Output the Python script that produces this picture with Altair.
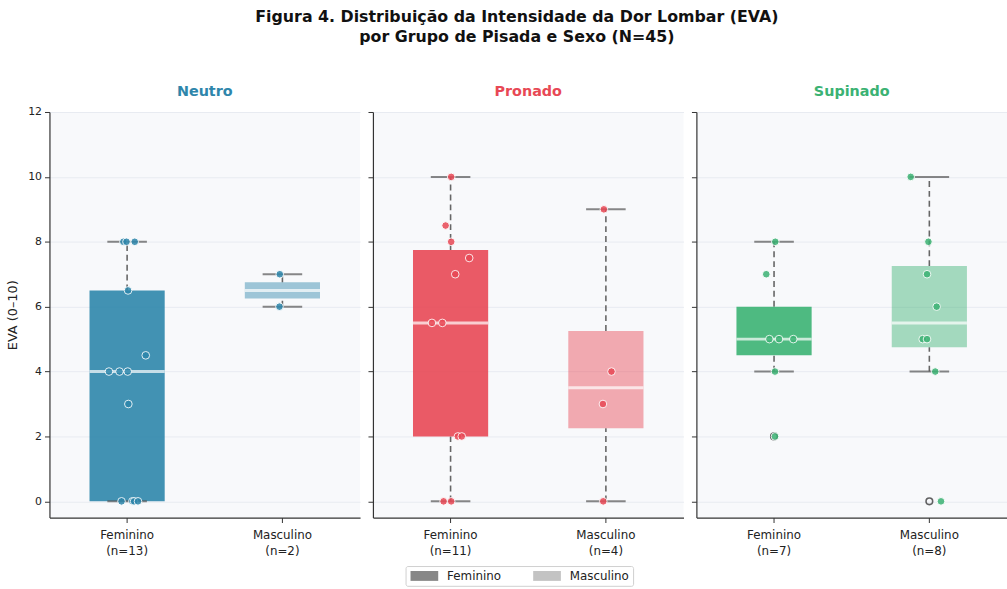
import numpy as np
import pandas as pd
import altair as alt

# Grupos de pisada, sexo e cores de cada grupo
groups = ["Neutro", "Pronado", "Supinado"]
sexes = ["Feminino", "Masculino"]
group_colors = ["#2E86AB", "#E84855", "#3BB273"]

# Intensidade da dor lombar (EVA 0–10) por grupo e sexo
eva = {
    ("Neutro", "Feminino"): [8, 8, 8, 6.5, 4.5, 4, 4, 4, 3, 0, 0, 0, 0],
    ("Neutro", "Masculino"): [7, 6],
    ("Pronado", "Feminino"): [10, 8.5, 8, 7.5, 7, 5.5, 5.5, 2, 2, 0, 0],
    ("Pronado", "Masculino"): [9, 4, 3, 0],
    ("Supinado", "Feminino"): [8, 7, 5, 5, 5, 4, 2],
    ("Supinado", "Masculino"): [10, 8, 7, 6, 5, 5, 4, 0],
}

# Deslocamento horizontal dos pontos (fração da largura da categoria)
jitter = {
    ("Neutro", "Feminino"): [-0.024, -0.004, 0.049, 0.006, 0.12, -0.117, -0.049, 0.004, 0.008, -0.036, 0.034, 0.045, 0.07],
    ("Neutro", "Masculino"): [-0.017, -0.019],
    ("Pronado", "Feminino"): [0.004, -0.032, 0.004, 0.12, 0.03, -0.12, -0.053, 0.047, 0.072, -0.045, 0.004],
    ("Pronado", "Masculino"): [-0.013, 0.036, -0.019, -0.017],
    ("Supinado", "Feminino"): [0.008, -0.05, -0.03, 0.032, 0.124, 0.006, 0.006],
    ("Supinado", "Masculino"): [-0.12, -0.006, -0.015, 0.047, -0.043, -0.015, 0.038, 0.075],
}

point_rows, stat_rows, whisker_rows, flier_rows = [], [], [], []
for (g, s), vals in eva.items():
    arr = np.array(vals, dtype=float)
    for v, j in zip(vals, jitter[(g, s)]):
        point_rows.append({"Grupo": g, "Sexo": s, "EVA": v, "jit": j})
    q1, med, q3 = np.percentile(arr, [25, 50, 75])
    iqr = q3 - q1
    inside = arr[(arr >= q1 - 1.5 * iqr) & (arr <= q3 + 1.5 * iqr)]
    lo, hi = inside.min(), inside.max()
    stat_rows.append({"Grupo": g, "Sexo": s, "q1": q1, "med": med, "q3": q3, "lo": lo, "hi": hi})
    whisker_rows.append({"Grupo": g, "Sexo": s, "a": lo, "b": q1})
    whisker_rows.append({"Grupo": g, "Sexo": s, "a": q3, "b": hi})
    for v in arr[(arr < lo) | (arr > hi)]:
        flier_rows.append({"Grupo": g, "Sexo": s, "EVA": v})

points = pd.DataFrame(point_rows)
stats = pd.DataFrame(stat_rows)
whiskers = pd.DataFrame(whisker_rows)
fliers = pd.DataFrame(flier_rows, columns=["Grupo", "Sexo", "EVA"])

PANEL_W, PANEL_H = 314, 410
BOX_W, CAP_W = 76, 40

sex_opacity = alt.Scale(domain=sexes, range=[0.9, 0.45])

# Legenda de sexo (tons de cinza), posicionada abaixo dos painéis
sex_legend = alt.Legend(
    title=None,
    orient="none",
    direction="horizontal",
    legendX=360,
    legendY=459,
    symbolType="M-2.8,-1L2.8,-1L2.8,1L-2.8,1Z",
    symbolSize=100,
    symbolStrokeWidth=0,
    symbolOffset=9,
    labelFontSize=12,
    labelColor="#222222",
    labelOffset=17,
    columnPadding=31,
    padding=4,
    strokeColor="#cfcfcf",
    fillColor="#ffffff",
    cornerRadius=2,
)


def panel(i):
    g = groups[i]
    col = group_colors[i]
    n_f = len(eva[(g, "Feminino")])
    n_m = len(eva[(g, "Masculino")])
    label_expr = (
        f"datum.value == 'Feminino' ? ['Feminino', '(n={n_f})'] : ['Masculino', '(n={n_m})']"
    )
    x = alt.X(
        "Sexo:N",
        scale=alt.Scale(domain=sexes, paddingInner=0, paddingOuter=0),
        axis=alt.Axis(title=None, labelAngle=0, labelExpr=label_expr, labelFontSize=12,
                      labelPadding=7, tickSize=5, labelLineHeight=16),
    )
    yscale = alt.Scale(domain=[-0.5, 12], nice=False, zero=False)
    yaxis = alt.Axis(
        values=[0, 2, 4, 6, 8, 10, 12],
        title="EVA (0–10)" if i == 0 else None,
        labels=(i == 0),
        titleFontSize=13,
        titleFontWeight="normal",
        titlePadding=8,
        labelFontSize=11,
        labelPadding=3,
        tickSize=5,
        grid=True,
        gridColor="#e8ebf1",
    )

    base_w = alt.Chart(whiskers[whiskers.Grupo == g])
    base_s = alt.Chart(stats[stats.Grupo == g])

    whisk = base_w.mark_rule(color="#666666", strokeWidth=1.6, strokeDash=[6, 4]).encode(
        x=x, y=alt.Y("a:Q", scale=yscale, axis=yaxis), y2="b:Q"
    )
    box = base_s.mark_bar(size=BOX_W, color=col).encode(
        x=x,
        y=alt.Y("q1:Q", scale=yscale, axis=yaxis),
        y2="q3:Q",
        opacity=alt.Opacity("Sexo:N", scale=sex_opacity, legend=None),
    )
    caps_lo = base_s.mark_tick(size=CAP_W, thickness=2, color="#555555").encode(
        x=x, y=alt.Y("lo:Q", scale=yscale, axis=yaxis)
    )
    caps_hi = base_s.mark_tick(size=CAP_W, thickness=2, color="#555555").encode(
        x=x, y=alt.Y("hi:Q", scale=yscale, axis=yaxis)
    )
    median = base_s.mark_tick(size=BOX_W, thickness=3, color="white").encode(
        x=x, y=alt.Y("med:Q", scale=yscale, axis=yaxis)
    )
    layers = [whisk, box, caps_lo, caps_hi, median]
    if i == 0:
        # camada sem área visível que carrega a legenda em cinza
        layers.insert(0, base_s.mark_bar(size=0, color="#7a7a7a", strokeWidth=0).encode(
            x=x,
            y=alt.Y("q1:Q", scale=yscale, axis=yaxis),
            y2="q1:Q",
            opacity=alt.Opacity("Sexo:N", scale=sex_opacity, legend=sex_legend),
        ))
    fl = fliers[fliers.Grupo == g]
    if len(fl):
        layers.append(
            alt.Chart(fl).mark_point(shape="circle", filled=False, color="#222222",
                                     size=45, strokeWidth=1.6).encode(
                x=x, y=alt.Y("EVA:Q", scale=yscale, axis=yaxis)
            )
        )
    layers.append(
        alt.Chart(points[points.Grupo == g]).mark_circle(
            size=60, color=col, stroke="white", strokeWidth=1, opacity=0.85
        ).encode(
            x=x,
            y=alt.Y("EVA:Q", scale=yscale, axis=yaxis),
            xOffset=alt.XOffset("jit:Q", scale=alt.Scale(domain=[-0.5, 0.5])),
        )
    )
    # o rótulo "12" do eixo do primeiro painel sobe um pouco acima da área
    title_offset = 7 if i == 0 else 12
    return alt.layer(*layers).properties(
        width=PANEL_W,
        height=PANEL_H,
        title=alt.Title(g, color=col, fontSize=14.5, fontWeight="bold",
                        offset=title_offset, frame="group"),
    )


chart = (
    alt.hconcat(*[panel(i) for i in range(3)], spacing=7)
    .resolve_scale(opacity="shared")
    .properties(
        title=alt.Title(
            ["Figura 4. Distribuição da Intensidade da Dor Lombar (EVA)",
             "por Grupo de Pisada e Sexo (N=45)"],
            fontSize=16,
            fontWeight="bold",
            anchor="middle",
            color="#111111",
            lineHeight=20,
            offset=39,
            dx=10,
        ),
        padding={"left": 7, "top": 6, "right": 0, "bottom": 0},
        background="white",
    )
    .configure(font="DejaVu Sans")
    .configure_view(stroke=None, fill="#f8f9fb")
    .configure_axis(domainColor="#333333", tickColor="#333333", labelColor="#222222",
                    titleColor="#222222", domainWidth=1.2)
    .configure_axisX(grid=False)
)

chart.save("out.html", embed_options={"renderer": "svg", "actions": False})
